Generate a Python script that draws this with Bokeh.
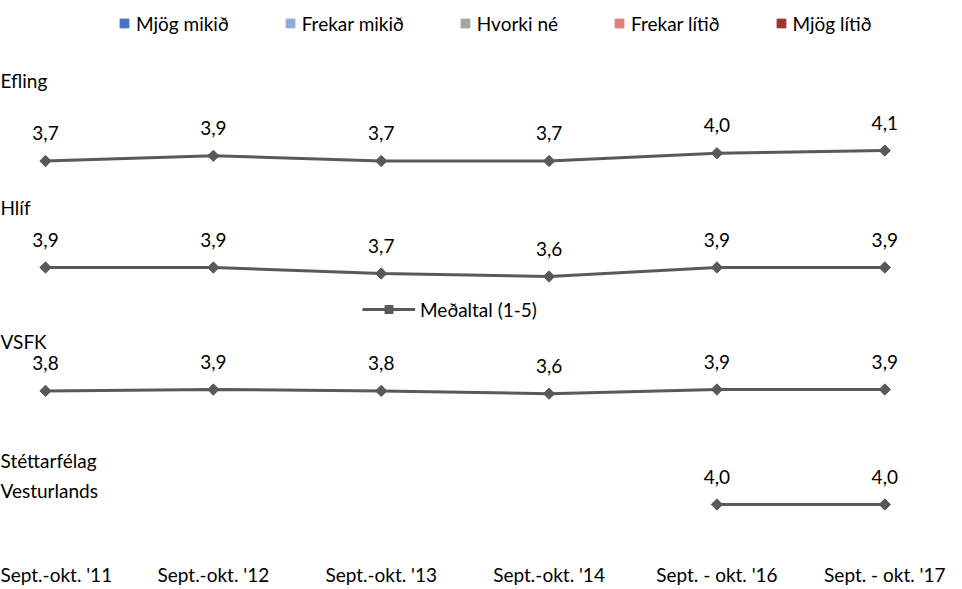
import math
from bokeh.plotting import figure
from bokeh.models import Range1d, FixedTicker, Legend, LegendItem, Label, ColumnDataSource
from bokeh.core.properties import value
from bokeh.embed import file_html
from bokeh.resources import INLINE

# ---- data ----
periods = ["Sept.-okt. '11", "Sept.-okt. '12", "Sept.-okt. '13",
           "Sept.-okt. '14", "Sept. - okt. '16", "Sept. - okt. '17"]
companies = ["Efling", "Hlíf", "VSFK", "Stéttarfélag\nVesturlands"]
efling = [3.7, 3.9, 3.7, 3.7, 4.0, 4.1]
hlif = [3.9, 3.9, 3.7, 3.6, 3.9, 3.9]
vsfk = [3.8, 3.9, 3.8, 3.6, 3.9, 3.9]
stettarfelag = [None, None, None, None, 4.0, 4.0]
series = [efling, hlif, vsfk, stettarfelag]
scale_labels = ["Mjög mikið", "Frekar mikið", "Hvorki né", "Frekar lítið", "Mjög lítið"]
scale_colors = ["#4472C4", "#8FAADC", "#A5A5A5", "#DE7F7F", "#A0322F"]
mean_label = "Meðaltal (1-5)"

# ---- layout / style ----
FONT = "Lato"
FW, FH = 962, 546
first_px, step_px = 45.0, 167.86
x_start = -first_px / step_px
x_end = x_start + FW / step_px
LINE_COLOR = "#595959"
NAN = float("nan")

# per-panel anchoring: (anchor value, page y of anchor, px per unit)
bands = [(3.7, 160.5, 26.0), (3.9, 267.0, 30.0), (3.9, 389.0, 14.0), (4.0, 504.0, 20.0)]
name_y = [[80], [207], [341], [460, 490]]

p = figure(frame_width=FW, frame_height=FH, x_range=Range1d(x_start, x_end),
           y_range=Range1d(0, FH), y_axis_type=None,
           output_backend="svg", toolbar_location=None, min_border=0)
p.outline_line_color = None
p.xgrid.visible = False
p.background_fill_color = "white"
p.border_fill_color = "white"

ax = p.xaxis[0]
ax.ticker = FixedTicker(ticks=list(range(len(periods))))
ax.major_label_overrides = {i: lab for i, lab in enumerate(periods)}
ax.axis_line_color = None
ax.major_tick_line_color = None
ax.minor_tick_line_color = None
ax.major_label_text_font = FONT
ax.major_label_text_font_size = "19px"
ax.major_label_text_color = "#000000"
ax.major_label_standoff = 10

mean_renderers = None
for k, (vals, (v0, py, kpx)) in enumerate(zip(series, bands)):
    name = f"band{k}"
    b0 = FH - py
    s = v0 - b0 / kpx
    p.extra_y_ranges[name] = Range1d(s, s + FH / kpx)
    ys = [NAN if v is None else v for v in vals]
    labs = ["" if v is None else f"{v:.1f}".replace(".", ",") for v in vals]
    src = ColumnDataSource(dict(x=list(range(len(periods))), y=ys, lab=labs))
    lr = p.line("x", "y", source=src, y_range_name=name, line_color=LINE_COLOR, line_width=3)
    sr = p.scatter("x", "y", source=src, y_range_name=name, marker="square", angle=math.pi / 4,
                   size=8, fill_color=LINE_COLOR, line_color=LINE_COLOR)
    p.text("x", "y", text="lab", source=src, y_range_name=name, text_align="center",
           text_baseline="middle", y_offset=-28, text_font=value(FONT),
           text_font_size="19px", text_color="#000000")
    if mean_renderers is None:
        mean_renderers = [lr, sr]
    for line_txt, yy in zip(companies[k].split("\n"), name_y[k]):
        p.add_layout(Label(x=0, y=FH - yy, x_units="screen", y_units="screen",
                           text=line_txt, text_font=FONT, text_font_size="19px",
                           text_baseline="middle", text_align="left", text_color="#000000"))

# top legend (response scale) -- proxy renderers with no visible points
items = []
for lab, col in zip(scale_labels, scale_colors):
    r = p.scatter(x=[NAN], y=[NAN], marker="square", fill_color=col, line_color=col)
    items.append(LegendItem(label=lab, renderers=[r]))
leg1 = Legend(items=items, orientation="horizontal", location=(113, FH - 34.5),
              glyph_width=22, glyph_height=22, label_standoff=1, spacing=50,
              padding=0, margin=0, border_line_color=None, background_fill_alpha=0,
              label_text_font=FONT, label_text_font_size="19px", label_text_color="#000000")
p.add_layout(leg1)

leg2 = Legend(items=[LegendItem(label=mean_label, renderers=mean_renderers)],
              orientation="horizontal", location=(362, FH - 320.5),
              glyph_width=53, glyph_height=20, label_standoff=5,
              padding=0, margin=0, border_line_color=None, background_fill_alpha=0,
              label_text_font=FONT, label_text_font_size="19px", label_text_color="#000000")
p.add_layout(leg2)

open("out.html", "w").write(file_html(p, INLINE))
